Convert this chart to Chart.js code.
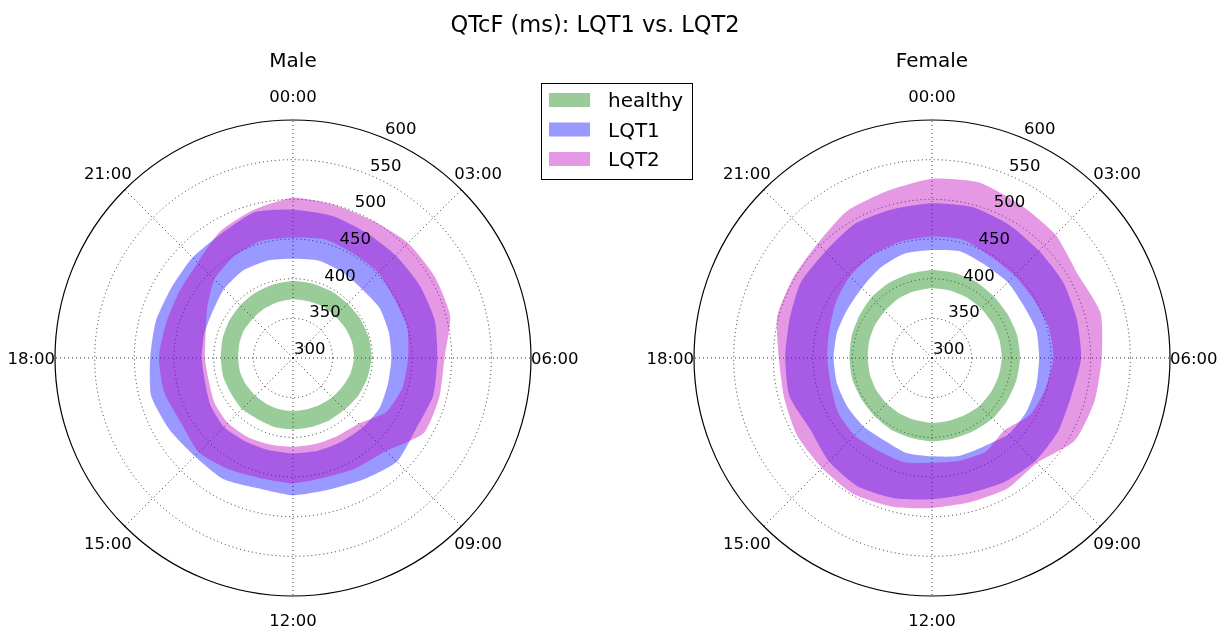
<!DOCTYPE html>
<html>
<head>
<meta charset="utf-8">
<script src="https://cdn.jsdelivr.net/npm/chart.js@4.4.1/dist/chart.umd.min.js"></script>
<style>
  html, body { margin: 0; padding: 0; background: #fff; }
  #wrap { position: relative; width: 1219px; height: 628px; }
  #wrap canvas { position: absolute; left: 0; top: 0; }
</style>
</head>
<body>
<div id="wrap">
  <canvas id="male" width="1219" height="628"></canvas>
  <canvas id="female" width="1219" height="628"></canvas>
</div>
<script>
// hour of day, one point every hour, 00:00 at top, clockwise
const hours = ['00:00', '01:00', '02:00', '03:00', '04:00', '05:00', '06:00', '07:00',
  '08:00', '09:00', '10:00', '11:00', '12:00', '13:00', '14:00', '15:00',
  '16:00', '17:00', '18:00', '19:00', '20:00', '21:00', '22:00', '23:00'];
const angleTicks = ['00:00', '03:00', '06:00', '09:00', '12:00', '15:00', '18:00', '21:00'];
const radialTicks = [300, 350, 400, 450, 500, 550, 600];
const groups = ['healthy', 'LQT1', 'LQT2'];

// QTcF band (ms), lower and upper edge per hour - Male
const maleHealthyLow = [374, 374, 375, 375, 376, 377, 377, 375, 372, 370, 368, 367,
  367, 367, 367, 367, 368, 369, 369, 370, 371, 371, 372, 373];
const maleHealthyHigh = [397, 397, 397, 397, 398, 399, 399, 397, 395, 392, 391, 390,
  390, 390, 389, 391, 390, 391, 391, 392, 393, 394, 395, 396];
const maleLqt1Low = [425, 427, 425, 423, 426, 425, 424, 424, 426, 424, 422, 421,
  420, 420, 421, 423, 420, 415, 415, 416, 417, 423, 427, 427];
const maleLqt1High = [487, 486, 483, 483, 484, 485, 482, 483, 479, 485, 477, 472,
  473, 470, 476, 475, 480, 485, 480, 479, 477, 479, 481, 490];
const maleLqt2Low = [452, 455, 452, 452, 448, 449, 445, 443, 436, 417, 413, 412,
  412, 413, 415, 416, 414, 410, 411, 414, 425, 440, 448, 453];
const maleLqt2High = [502, 500, 500, 505, 506, 505, 491, 491, 490, 466, 460, 456,
  458, 457, 462, 468, 463, 468, 469, 466, 466, 470, 484, 493];

// Female
const femaleHealthyLow = [388, 388, 388, 388, 388, 388, 388, 387, 386, 385, 383, 382,
  382, 381, 381, 381, 381, 381, 381, 382, 383, 384, 386, 387];
const femaleHealthyHigh = [411, 411, 411, 410, 410, 411, 411, 410, 409, 408, 406, 405,
  405, 404, 404, 403, 403, 404, 404, 405, 406, 408, 409, 410];
const femaleLqt1Low = [436, 439, 435, 435, 433, 436, 435, 436, 437, 436, 429, 428,
  424, 424, 420, 422, 423, 424, 424, 424, 423, 425, 431, 436];
const femaleLqt1High = [495, 497, 494, 491, 491, 489, 488, 482, 484, 484, 481, 477,
  478, 483, 487, 484, 478, 486, 485, 486, 491, 490, 495, 494];
const femaleLqt2Low = [453, 454, 448, 447, 448, 452, 453, 448, 443, 429, 436, 434,
  432, 436, 435, 438, 437, 432, 432, 434, 440, 446, 450, 452];
const femaleLqt2High = [526, 529, 523, 520, 512, 520, 514, 512, 508, 487, 490, 488,
  489, 494, 498, 496, 496, 493, 493, 502, 502, 504, 514, 518];

const colors = {
    healthy: 'rgba(0,128,0,0.4)',
    LQT1: 'rgba(0,0,255,0.4)',
    LQT2: 'rgba(191,0,191,0.4)'
};
// LQT2 painted last, on top
const drawOrder = { healthy: 2, LQT1: 1, LQT2: 0 };
const FONT = "'DejaVu Sans', sans-serif";

// a band = invisible lower edge + upper edge filled down to it
function band(name, low, high) {
    const common = {
        borderColor: 'transparent', borderWidth: 0, pointRadius: 0, pointHoverRadius: 0,
        order: drawOrder[name]
    };
    return [
        Object.assign({ label: name + ' low', data: low, fill: false, backgroundColor: 'transparent' }, common),
        Object.assign({ label: name, data: high, fill: '-1', backgroundColor: colors[name] }, common)
    ];
}

const polarText = {
    id: 'polarText',
    afterDraw(chart, args, opts) {
        const ctx = chart.ctx;
        const s = chart.scales.r;
        const cx = s.xCenter, cy = s.yCenter, R = s.drawingArea;
        ctx.save();
        ctx.fillStyle = '#000';

        // radial tick labels along 22.5 deg
        ctx.font = '16.5px ' + FONT;
        ctx.textAlign = 'left';
        ctx.textBaseline = 'alphabetic';
        const a = 22.5 * Math.PI / 180;
        radialTicks.forEach(v => {
            const d = s.getDistanceFromCenterForValue(v);
            ctx.fillText(String(v), cx + d * Math.sin(a) + 1, cy - d * Math.cos(a) - 4);
        });

        // hour labels
        ctx.textAlign = 'center';
        angleTicks.forEach((t, i) => {
            const th = i * Math.PI / 4;
            ctx.fillText(t, cx + 1.1 * R * Math.sin(th), cy - 1.1 * R * Math.cos(th) + 6);
        });

        // subplot title
        ctx.font = '20px ' + FONT;
        ctx.fillText(opts.title, cx, 66.5);

        if (opts.header) {
            ctx.font = '22.5px ' + FONT;
            ctx.fillText('QTcF (ms): LQT1 vs. LQT2', 595, 31.5);

            // legend box
            ctx.strokeStyle = '#000';
            ctx.lineWidth = 1;
            ctx.strokeRect(541.5, 83.5, 151, 96);
            ctx.font = '20px ' + FONT;
            ctx.textAlign = 'left';
            groups.forEach((g, i) => {
                const yc = 100 + i * 29.5;
                ctx.fillStyle = colors[g];
                ctx.fillRect(549, yc - 7, 41, 14);
                ctx.fillStyle = '#000';
                ctx.fillText(g, 608, yc + 7);
            });
        }
        ctx.restore();
    }
};

function polarChart(id, title, header, padding, data) {
    return new Chart(document.getElementById(id), {
        type: 'radar',
        data: {
            labels: hours,
            datasets: [].concat(
                band('healthy', data[0], data[1]),
                band('LQT1', data[2], data[3]),
                band('LQT2', data[4], data[5])
            )
        },
        options: {
            responsive: false,
            animation: false,
            events: [],
            layout: { padding },
            elements: { line: { tension: 0.2 } },
            plugins: {
                legend: { display: false },
                tooltip: { enabled: false },
                polarText: { title, header }
            },
            scales: {
                r: {
                    z: 1,
                    min: 300,
                    max: 600,
                    startAngle: 0,
                    ticks: { display: false, stepSize: 50 },
                    pointLabels: { display: false },
                    grid: {
                        circular: true,
                        color: c => (c.tick && c.tick.value === 600) ? '#000' : 'rgba(0,0,0,0.8)',
                        lineWidth: c => (c.tick && c.tick.value === 600) ? 1.2 : 1
                    },
                    border: { dash: c => (c.tick && c.tick.value === 600) ? [] : [1, 3] },
                    angleLines: {
                        color: 'rgba(0,0,0,0.8)',
                        lineWidth: c => c.index % 3 === 0 ? 1 : 0,
                        borderDash: [1, 3]
                    }
                }
            }
        },
        plugins: [polarText]
    });
}

polarChart('male', 'Male', true, { left: 55, top: 120, right: 688, bottom: 32 },
    [maleHealthyLow, maleHealthyHigh, maleLqt1Low, maleLqt1High, maleLqt2Low, maleLqt2High]);
polarChart('female', 'Female', false, { left: 694, top: 120, right: 49, bottom: 32 },
    [femaleHealthyLow, femaleHealthyHigh, femaleLqt1Low, femaleLqt1High, femaleLqt2Low, femaleLqt2High]);
</script>
</body>
</html>
